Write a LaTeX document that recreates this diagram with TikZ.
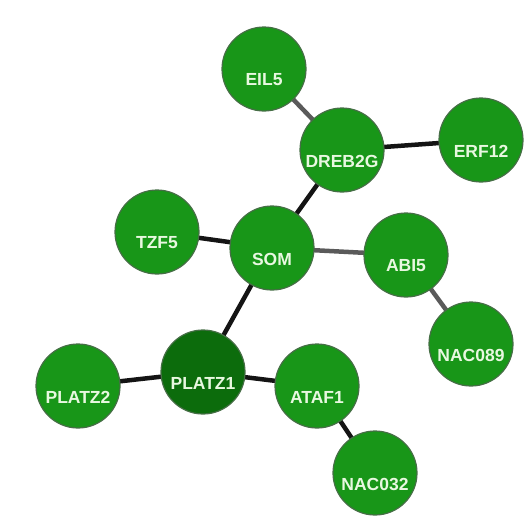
\documentclass[tikz,border=0pt]{standalone}
\usepackage{fontspec}
\setmainfont{Liberation Sans}
\definecolor{nodegreen}{RGB}{24,150,24}
\definecolor{hubgreen}{RGB}{12,108,12}
\definecolor{rimgreen}{RGB}{70,110,70}
\definecolor{labelcol}{RGB}{232,248,224}
\definecolor{darkedge}{RGB}{20,20,20}
\definecolor{greyedge}{RGB}{90,90,90}
\tikzset{
  gene/.style={circle, draw=rimgreen, line width=1.2pt, fill=nodegreen,
    minimum size=84pt, inner sep=0pt},
  hub/.style={gene, fill=hubgreen},
  genelabel/.style={font=\fontsize{17.5}{18}\selectfont\bfseries, text=labelcol, inner sep=0pt},
  strong/.style={draw=darkedge, line width=4.5pt},
  weak/.style={draw=greyedge, line width=4.5pt}
}
\newcommand{\gene}[4][gene]{%
  \node[#1] (#2) at (#3) {};
  \node[genelabel] (#2-t) at ([yshift=-11pt]#2.center) {#4};
}
\begin{document}
\begin{tikzpicture}[x=1pt,y=-1pt]
\useasboundingbox (0,0) rectangle (532,517);
% node positions
\coordinate (pEIL5) at (264,69);
\coordinate (pDREB2G) at (342,150);
\coordinate (pERF12) at (481,140);
\coordinate (pTZF5) at (157,232);
\coordinate (pSOM) at (272,248);
\coordinate (pABI5) at (406,255);
\coordinate (pNAC089) at (471,344);
\coordinate (pPLATZ2) at (78,386);
\coordinate (pPLATZ1) at (203,372);
\coordinate (pATAF1) at (317,386);
\coordinate (pNAC032) at (375,473);
% edges, drawn first so the circles cover their ends
\draw[weak] (pEIL5) -- (pDREB2G);
\draw[strong] (pDREB2G) -- (pERF12);
\draw[strong] (pDREB2G) -- (pSOM);
\draw[strong] (pTZF5) -- (pSOM);
\draw[weak] (pSOM) -- (pABI5);
\draw[weak] (pABI5) -- (pNAC089);
\draw[strong] (pSOM) -- (pPLATZ1);
\draw[strong] (pPLATZ2) -- (pPLATZ1);
\draw[strong] (pPLATZ1) -- (pATAF1);
\draw[strong] (pATAF1) -- (pNAC032);
% genes
\gene{EIL5}{pEIL5}{EIL5}
\gene{DREB2G}{pDREB2G}{DREB2G}
\gene{ERF12}{pERF12}{ERF12}
\gene{TZF5}{pTZF5}{TZF5}
\gene{SOM}{pSOM}{SOM}
\gene{ABI5}{pABI5}{ABI5}
\gene{NAC089}{pNAC089}{NAC089}
\gene{PLATZ2}{pPLATZ2}{PLATZ2}
\gene[hub]{PLATZ1}{pPLATZ1}{PLATZ1}
\gene{ATAF1}{pATAF1}{ATAF1}
\gene{NAC032}{pNAC032}{NAC032}
\end{tikzpicture}
\end{document}
